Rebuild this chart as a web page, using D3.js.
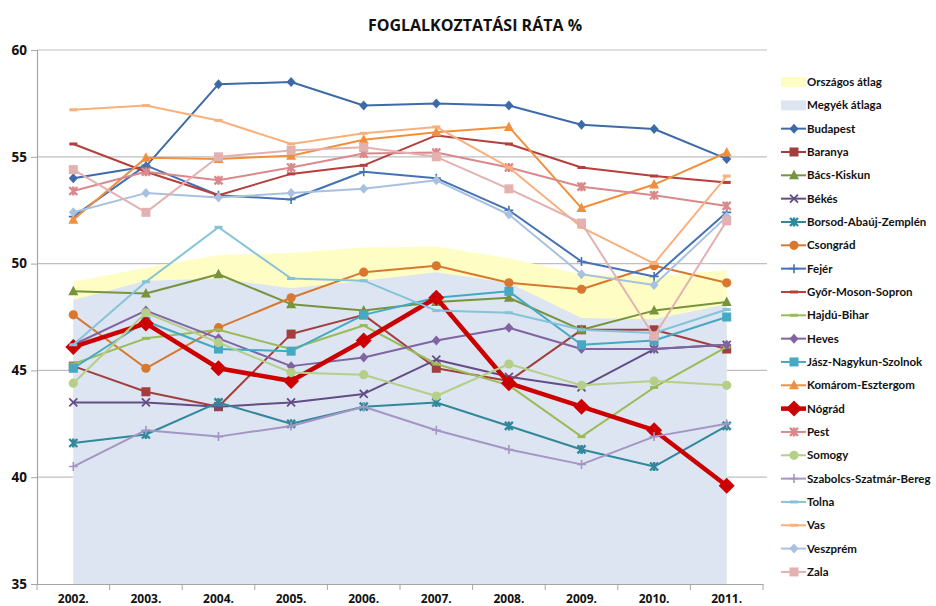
<!DOCTYPE html>
<html><head><meta charset="utf-8">
<script src="https://cdn.jsdelivr.net/npm/d3@7"></script>
<style>
body{margin:0;background:#fff;}
text{font-family:"Open Sans","Liberation Sans",sans-serif;}
</style></head>
<body><svg id="c" width="936" height="606"></svg>
<script>
// ---- data ----
const years = ["2002.","2003.","2004.","2005.","2006.","2007.","2008.","2009.","2010.","2011."];
const yTicks = [35,40,45,50,55,60];
const orszagosAtlag = [49.15,49.8,50.4,50.5,50.75,50.8,50.25,49.5,49.4,49.7];
const megyekAtlaga  = [48.3,49.2,49.3,48.85,49.2,49.6,49.1,47.45,47.4,48.1];
const budapest  = [54.0,54.55,58.4,58.5,57.4,57.5,57.4,56.5,56.3,54.9];
const baranya   = [45.2,44.0,43.3,46.7,47.6,45.1,44.5,46.9,46.9,46.0];
const bacsKiskun= [48.7,48.6,49.5,48.1,47.8,48.2,48.4,46.9,47.8,48.2];
const bekes     = [43.5,43.5,43.3,43.5,43.9,45.5,44.7,44.2,46.0,46.2];
const borsod    = [41.6,42.0,43.5,42.5,43.3,43.5,42.4,41.3,40.5,42.4];
const csongrad  = [47.6,45.1,47.0,48.4,49.6,49.9,49.1,48.8,49.9,49.1];
const fejer     = [52.2,54.6,53.2,53.0,54.3,54.0,52.5,50.1,49.4,52.4];
const gyor      = [55.6,54.3,53.2,54.2,54.6,56.0,55.6,54.5,54.1,53.8];
const hajdu     = [45.3,46.5,46.9,46.0,47.1,45.3,44.3,41.9,44.2,46.1];
const heves     = [46.2,47.8,46.5,45.2,45.6,46.4,47.0,46.0,46.0,46.2];
const jasz      = [45.1,47.3,46.0,45.9,47.6,48.4,48.7,46.2,46.4,47.5];
const komarom   = [52.05,54.95,54.9,55.05,55.8,56.15,56.4,52.6,53.7,55.2];
const nograd    = [46.1,47.2,45.1,44.5,46.4,48.4,44.4,43.3,42.2,39.6];
const pest      = [53.4,54.3,53.9,54.5,55.15,55.2,54.5,53.6,53.2,52.7];
const somogy    = [44.4,47.7,46.3,44.9,44.8,43.8,45.3,44.3,44.5,44.3];
const szabolcs  = [40.5,42.2,41.9,42.4,43.3,42.2,41.3,40.6,41.9,42.5];
const tolna     = [46.2,49.15,51.7,49.3,49.2,47.8,47.7,46.9,46.75,47.85];
const vas       = [57.2,57.4,56.7,55.6,56.1,56.4,54.5,51.7,50.0,54.1];
const veszprem  = [52.4,53.3,53.1,53.3,53.5,53.9,52.3,49.5,49.0,52.2];
const zala      = [54.4,52.4,55.0,55.3,55.45,55.0,53.5,51.9,46.6,52.0];

const seriesNames = ["Budapest","Baranya","Bács-Kiskun","Békés","Borsod-Abaúj-Zemplén","Csongrád","Fejér","Győr-Moson-Sopron","Hajdú-Bihar","Heves","Jász-Nagykun-Szolnok","Komárom-Esztergom","Nógrád","Pest","Somogy","Szabolcs-Szatmár-Bereg","Tolna","Vas","Veszprém","Zala"];
const seriesValues = [budapest,baranya,bacsKiskun,bekes,borsod,csongrad,fejer,gyor,hajdu,heves,jasz,komarom,nograd,pest,somogy,szabolcs,tolna,vas,veszprem,zala];

// ---- styles ----
const styles = [
 {c:"#3E6BA7",m:"diamond"},{c:"#A23F3D",m:"square"},{c:"#77933C",m:"triangle"},{c:"#644C86",m:"x"},
 {c:"#31889B",m:"star"},{c:"#D8782F",m:"circle"},{c:"#4472B4",m:"plus"},{c:"#B4403D",m:"dash"},
 {c:"#9BBB59",m:"dash"},{c:"#8064A2",m:"diamond"},{c:"#45A9C4",m:"square"},{c:"#F0903E",m:"triangle"},
 {c:"#CC0000",m:"bigdiamond",w:4.5},{c:"#D9898B",m:"star"},{c:"#B5CF88",m:"circle"},{c:"#A595C4",m:"plus"},
 {c:"#84C3D8",m:"dash"},{c:"#FAB07C",m:"dash"},{c:"#A9C1E0",m:"diamond"},{c:"#E4B1B1",m:"square"}
];

const svg = d3.select("#c");
const pLeft=37,pRight=763,pTop=50,pBottom=584;
const x = d3.scaleBand().domain(years).range([pLeft,pRight]).padding(0);
const cx = d => x(d)+x.bandwidth()/2;
const y = d3.scaleLinear().domain([35,60]).range([pBottom,pTop]);

// title
svg.append("text").attr("x",475).attr("y",31).attr("text-anchor","middle")
  .attr("font-size",16).attr("font-weight","bold").attr("fill","#111").text("FOGLALKOZTATÁSI RÁTA %");

// gridlines
svg.append("g").selectAll("line").data(yTicks.slice(1)).join("line")
  .attr("x1",pLeft).attr("x2",767).attr("y1",d=>y(d)).attr("y2",d=>y(d))
  .attr("stroke","#BFBFBF").attr("stroke-width",1.2);

// areas
const area = vals => d3.area().x((d,i)=>cx(years[i])).y0(y(35)).y1(d=>y(d))(vals);
svg.append("path").attr("d",area(orszagosAtlag)).attr("fill","#FEFEC4");
svg.append("path").attr("d",area(megyekAtlaga)).attr("fill","#DCE5F1");

// axes
const yAxis = d3.axisLeft(y).tickValues(yTicks).tickSize(6).tickFormat(d3.format("d"));
const gy = svg.append("g").attr("transform",`translate(${pLeft},0)`).call(yAxis);
gy.select(".domain").attr("stroke","#A6A6A6").attr("stroke-width",1.2);
gy.selectAll(".tick line").attr("stroke","#A6A6A6");
gy.selectAll("text").attr("font-size",13.5).attr("font-weight","bold").attr("fill","#111").attr("x",-10)
  .style("font-family","'Open Sans',sans-serif");

const gx = svg.append("g").attr("transform",`translate(0,${pBottom})`)
  .call(d3.axisBottom(x).tickSize(0).tickPadding(10));
gx.select(".domain").attr("stroke","#A6A6A6").attr("stroke-width",1.2);
gx.selectAll("text").attr("font-size",12).attr("font-weight","bold").attr("fill","#111")
  .style("font-family","'Open Sans',sans-serif");
svg.append("g").selectAll("line").data(d3.range(years.length+1)).join("line")
  .attr("x1",i=>pLeft+i*x.bandwidth()).attr("x2",i=>pLeft+i*x.bandwidth())
  .attr("y1",pBottom).attr("y2",pBottom+6).attr("stroke","#A6A6A6");

// markers
function marker(g,type,px,py,color){
  const s=4.5;
  switch(type){
    case "diamond": g.append("path").attr("d",`M${px},${py-s-0.5}L${px+s},${py}L${px},${py+s+0.5}L${px-s},${py}Z`).attr("fill",color);break;
    case "bigdiamond": {const b=8; g.append("path").attr("d",`M${px},${py-b}L${px+b},${py}L${px},${py+b}L${px-b},${py}Z`).attr("fill",color);break;}
    case "square": g.append("rect").attr("x",px-4.5).attr("y",py-4.5).attr("width",9).attr("height",9).attr("fill",color);break;
    case "triangle": g.append("path").attr("d",`M${px},${py-5.5}L${px+5},${py+4}L${px-5},${py+4}Z`).attr("fill",color);break;
    case "circle": g.append("circle").attr("cx",px).attr("cy",py).attr("r",4.6).attr("fill",color);break;
    case "x": g.append("path").attr("d",`M${px-4},${py-4}L${px+4},${py+4}M${px+4},${py-4}L${px-4},${py+4}`).attr("stroke",color).attr("stroke-width",1.8);break;
    case "star": g.append("path").attr("d",`M${px-4},${py-4}L${px+4},${py+4}M${px+4},${py-4}L${px-4},${py+4}M${px},${py-4.5}L${px},${py+4.5}`).attr("stroke",color).attr("stroke-width",2.4);break;
    case "plus": g.append("path").attr("d",`M${px-4.5},${py}L${px+4.5},${py}M${px},${py-4.5}L${px},${py+4.5}`).attr("stroke",color).attr("stroke-width",1.6);break;
    case "dash": g.append("path").attr("d",`M${px-4},${py}L${px+4},${py}`).attr("stroke",color).attr("stroke-width",3);break;
  }
}

const line = d3.line().x((d,i)=>cx(years[i])).y(d=>y(d));
const gs = svg.append("g");
seriesValues.forEach((vals,k)=>{
  const st=styles[k];
  const g=gs.append("g");
  g.append("path").attr("d",line(vals)).attr("fill","none").attr("stroke",st.c)
    .attr("stroke-width",st.w||2).attr("stroke-linejoin","round");
  vals.forEach((v,i)=>marker(g,st.m,cx(years[i]),y(v),st.c));
});

// legend
const lg = svg.append("g");
const ly0=82, ldy=23.33, maxW=127;
lg.append("rect").attr("x",781).attr("y",ly0-5).attr("width",25).attr("height",10).attr("fill","#FEFEC4");
lg.append("rect").attr("x",781).attr("y",ly0+ldy-5).attr("width",25).attr("height",10).attr("fill","#DCE5F1");
const lt=(txt,yy)=>{
  const t=lg.append("text").attr("x",807).attr("y",yy+4).attr("font-size",11.5).attr("font-weight","bold")
    .attr("fill","#111").style("font-family","Lato,'Open Sans',sans-serif").text(txt);
  const w=t.node().getComputedTextLength();
  if(w>maxW) t.attr("textLength",maxW).attr("lengthAdjust","spacingAndGlyphs");
};
lt("Országos átlag",ly0); lt("Megyék átlaga",ly0+ldy);
seriesNames.forEach((n,k)=>{
  const yy=ly0+(k+2)*ldy, st=styles[k];
  lg.append("line").attr("x1",781).attr("x2",806).attr("y1",yy).attr("y2",yy).attr("stroke",st.c).attr("stroke-width",st.w||2);
  marker(lg,st.m,794,yy,st.c);
  lt(n,yy);
});
</script></body></html>
